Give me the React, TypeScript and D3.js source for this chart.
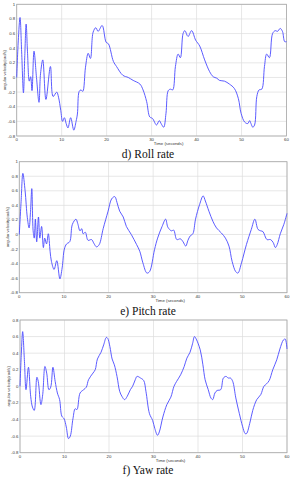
import React from "react";
import * as d3 from "d3";

// time ticks shared by all three panels
const timeTicks = [0, 10, 20, 30, 40, 50, 60];
const yTicksRollPitch = [-0.8, -0.6, -0.4, -0.2, 0, 0.2, 0.4, 0.6, 0.8, 1];
const yTicksYaw = [-0.8, -0.6, -0.4, -0.2, 0, 0.2, 0.4, 0.6, 0.8];

// [time (s), angular velocity (rad/s)]
const rollData: [number, number][] = [
  [0, 0], [0.35, 0.5], [0.74, 0.82], [1.1, 0.35], [1.5, -0.21], [1.8, 0.3], [2.1, 0.73], [2.4, 0.35],
  [2.8, -0.05], [3.1, 0.01], [3.4, -0.18], [3.85, 0.36], [4.4, 0.0], [4.96, -0.34], [5.3, 0.05], [5.8, 0.24],
  [6.5, -0.3], [7.5, 0.15], [8.1, -0.26], [8.9, -0.2], [9.3, -0.27], [9.8, -0.45], [10.2, -0.6], [10.6, -0.55],
  [11.0, -0.63], [11.4, -0.69], [12.0, -0.55], [12.7, -0.72], [13.2, -0.6], [13.5, -0.5], [13.9, -0.19],
  [14.3, -0.17], [14.7, -0.19], [15.3, 0.14], [15.9, 0.33], [16.4, 0.26], [17.0, 0.62], [17.6, 0.68],
  [18.1, 0.63], [19.0, 0.71], [19.9, 0.48], [20.4, 0.46], [21.5, 0.22], [22.2, 0.15], [23.6, 0.03],
  [24.8, 0], [25.9, -0.04], [27.4, -0.09], [28.1, -0.17], [28.9, -0.33], [29.6, -0.54], [30.2, -0.56],
  [31.1, -0.65], [31.7, -0.59], [32.2, -0.64], [32.7, -0.68], [33.2, -0.49], [33.7, -0.18], [34.2, -0.16],
  [34.7, -0.17], [35.3, 0.15], [35.9, 0.32], [36.4, 0.27], [37.0, 0.6], [37.4, 0.64], [38.1, 0.56],
  [38.9, 0.64], [39.8, 0.51], [40.7, 0.43], [41.8, 0.24], [42.9, 0.08], [43.7, 0.01], [44.5, -0.01],
  [45.1, -0.04], [46.2, -0.05], [47.3, -0.09], [48.4, -0.15], [49.3, -0.29], [49.9, -0.49], [50.7, -0.61],
  [51.4, -0.63], [51.8, -0.59], [52.1, -0.63], [52.5, -0.68], [52.9, -0.65], [53.4, -0.26], [53.9, -0.17],
  [54.5, -0.16], [55.1, 0.15], [55.6, 0.32], [56.2, 0.27], [56.9, 0.6], [57.5, 0.64], [58.0, 0.63],
  [58.6, 0.67], [59.1, 0.63], [59.6, 0.49], [60, 0.49],
];

const pitchData: [number, number][] = [
  [0, 0], [0.4, 0.45], [0.8, 0.84], [1.3, 0.6], [1.8, 0.23], [2.2, 0.09], [2.5, 0.3], [2.8, 0.63],
  [3.1, 0.05], [3.35, -0.05], [3.6, 0.21], [3.9, -0.1], [4.3, 0.24], [4.6, -0.05], [5.0, 0.11], [5.4, -0.18],
  [5.7, -0.05], [6.1, -0.13], [6.5, 0.01], [6.9, -0.23], [7.2, -0.37], [7.8, -0.48], [8.4, -0.36],
  [9.1, -0.61], [9.6, -0.46], [10.1, -0.2], [10.6, -0.13], [11.3, -0.1], [11.9, 0.14], [12.7, 0.21],
  [13.1, 0.15], [13.6, 0.05], [14.0, 0.08], [14.3, 0.01], [14.8, 0.03], [15.4, -0.08], [16.2, -0.07],
  [16.7, -0.12], [17.3, -0.17], [17.9, -0.14], [18.8, 0.08], [19.9, 0.32], [20.7, 0.49], [21.4, 0.52],
  [21.9, 0.44], [22.5, 0.32], [23.3, 0.24], [24.0, 0.11], [25.1, 0], [26.3, -0.14], [27.0, -0.23],
  [27.7, -0.39], [28.6, -0.53], [29.2, -0.51], [30.3, -0.21], [31.0, -0.05], [32.0, 0.11], [32.8, 0.21],
  [33.3, 0.1], [34.1, 0.05], [34.6, 0.06], [35.3, -0.07], [36.1, -0.06], [36.7, -0.1], [37.3, -0.16],
  [37.8, -0.08], [38.3, -0.02], [38.9, 0.01], [39.5, 0.21], [40.4, 0.41], [41.2, 0.53], [41.7, 0.46],
  [42.5, 0.32], [43.4, 0.18], [44.2, 0.09], [45.3, 0.02], [46.2, -0.05], [47.0, -0.16], [47.7, -0.37],
  [48.5, -0.51], [49.0, -0.53], [49.8, -0.39], [50.9, -0.14], [52.0, 0.07], [52.8, 0.21], [53.5, 0.07],
  [54.1, 0.05], [54.6, 0.04], [55.5, -0.07], [56.3, -0.07], [56.9, -0.11], [57.4, -0.18], [57.8, -0.14],
  [58.5, 0.01], [59.3, 0.14], [60, 0.29],
];

const yawData: [number, number][] = [
  [0, 0], [0.3, 0.4], [0.6, 0.66], [1.0, 0.3], [1.35, -0.04], [1.9, 0.23], [2.4, -0.12], [2.8, -0.25],
  [3.2, -0.29], [3.8, 0.11], [4.1, 0.06], [4.7, -0.22], [5.1, -0.1], [5.6, 0.24], [6.0, 0.16], [6.5, -0.04],
  [6.9, -0.01], [7.4, 0.23], [7.9, 0.06], [8.4, -0.08], [8.9, -0.16], [9.4, -0.36], [9.9, -0.39],
  [10.4, -0.49], [10.9, -0.63], [11.3, -0.6], [11.9, -0.39], [12.4, -0.27], [12.8, -0.28], [13.5, -0.08],
  [14.3, -0.04], [14.9, -0.01], [15.4, 0.08], [16.4, 0.16], [16.9, 0.2], [17.4, 0.33], [18.2, 0.41],
  [18.8, 0.5], [19.4, 0.59], [19.7, 0.58], [20.2, 0.48], [20.7, 0.33], [21.2, 0.26], [21.8, 0.12],
  [22.4, -0.06], [22.9, -0.12], [23.5, -0.16], [24.1, -0.12], [24.8, -0.04], [25.3, 0.0], [25.9, 0.08],
  [26.3, 0.12], [27.1, 0.1], [27.8, 0.07], [28.3, -0.06], [29.1, -0.33], [29.8, -0.41], [30.3, -0.51],
  [30.9, -0.59], [31.3, -0.55], [32.1, -0.37], [33.0, -0.22], [33.9, -0.13], [34.6, 0], [35.2, 0.06],
  [36.1, 0.14], [36.9, 0.24], [37.5, 0.34], [38.2, 0.41], [38.8, 0.52], [39.2, 0.6], [39.6, 0.57],
  [40.5, 0.44], [41.1, 0.26], [41.6, 0.08], [42.3, -0.04], [42.9, -0.14], [43.3, -0.16], [43.8, -0.08],
  [44.3, -0.05], [45.1, -0.04], [45.7, 0.1], [46.3, 0.12], [46.8, 0.1], [47.3, 0.1], [47.8, 0.06],
  [48.5, -0.14], [49.3, -0.33], [50.0, -0.48], [50.6, -0.57], [50.9, -0.57], [51.7, -0.43], [52.3, -0.29],
  [53.2, -0.16], [54.1, -0.1], [54.8, 0], [55.4, 0.03], [56.0, 0.07], [56.8, 0.2], [57.7, 0.32],
  [58.4, 0.45], [59.2, 0.56], [59.6, 0.57], [60, 0.45],
];

const fmt = (v: number) => String(Math.round(v * 10) / 10);

type PanelProps = {
  data: [number, number][];
  yTicks: number[];
  left: number;
  right: number;
  top: number;
  bottom: number;
  title: string;
  titleY: number;
};

const Panel = ({ data, yTicks, left, right, top, bottom, title, titleY }: PanelProps) => {
  const x = d3.scaleLinear().domain([0, 60]).range([left, right]);
  const y = d3.scaleLinear().domain([yTicks[0], yTicks[yTicks.length - 1]]).range([bottom, top]);
  const line = d3
    .line<[number, number]>()
    .x((d) => x(d[0]))
    .y((d) => y(d[1]))
    .curve(d3.curveCatmullRom.alpha(0.5));

  return (
    <g>
      {/* grid */}
      {yTicks.map((t) => (
        <line key={"gy" + t} x1={left} x2={right} y1={y(t)} y2={y(t)} stroke="#dcdcdc" strokeWidth={0.7} />
      ))}
      {timeTicks.map((t) => (
        <line key={"gx" + t} x1={x(t)} x2={x(t)} y1={top} y2={bottom} stroke="#dcdcdc" strokeWidth={0.7} />
      ))}
      <rect x={left} y={top} width={right - left} height={bottom - top} fill="none" stroke="#a8a8a8" strokeWidth={0.8} />

      <path d={line(data) || ""} fill="none" stroke="#4a4aff" strokeWidth={0.9} />

      {/* tick labels */}
      {yTicks.map((t) => (
        <text key={"ly" + t} x={left - 1.5} y={y(t) + 1.5} fontSize={4.3} textAnchor="end" fill="#333"
          fontFamily="Liberation Sans, Arial, sans-serif">{fmt(t)}</text>
      ))}
      {timeTicks.map((t) => (
        <text key={"lx" + t} x={x(t)} y={bottom + 4.8} fontSize={4.3} textAnchor="middle" fill="#333"
          fontFamily="Liberation Sans, Arial, sans-serif">{t}</text>
      ))}
      <text x={(left + right) / 2 + 17} y={bottom + 9} fontSize={4.3} textAnchor="middle" fill="#333"
        fontFamily="Liberation Sans, Arial, sans-serif">Time (seconds)</text>
      <text transform={`translate(${left - 10.5},${(top + bottom) / 2}) rotate(-90)`} fontSize={4.1}
        textAnchor="middle" fill="#333" fontFamily="Liberation Sans, Arial, sans-serif">
        angular velocity(rad/s)
      </text>

      <text x={148} y={titleY} fontSize={11.5} textAnchor="middle" fill="#111"
        fontFamily="Liberation Serif, Times New Roman, serif">{title}</text>
    </g>
  );
};

export default function App() {
  return (
    <div style={{ position: "absolute", left: 0, top: 0, width: 294, height: 480, background: "#fff" }}>
      <svg width={294} height={480}>
        <Panel data={rollData} yTicks={yTicksRollPitch} left={16.7} right={286.5} top={4.3} bottom={136}
          title="d) Roll rate" titleY={157.5} />
        <Panel data={pitchData} yTicks={yTicksRollPitch} left={19.3} right={287} top={161.7} bottom={292.7}
          title="e) Pitch rate" titleY={314.5} />
        <Panel data={yawData} yTicks={yTicksYaw} left={20} right={287} top={320} bottom={452.7}
          title="f) Yaw rate" titleY={474} />
      </svg>
    </div>
  );
}
